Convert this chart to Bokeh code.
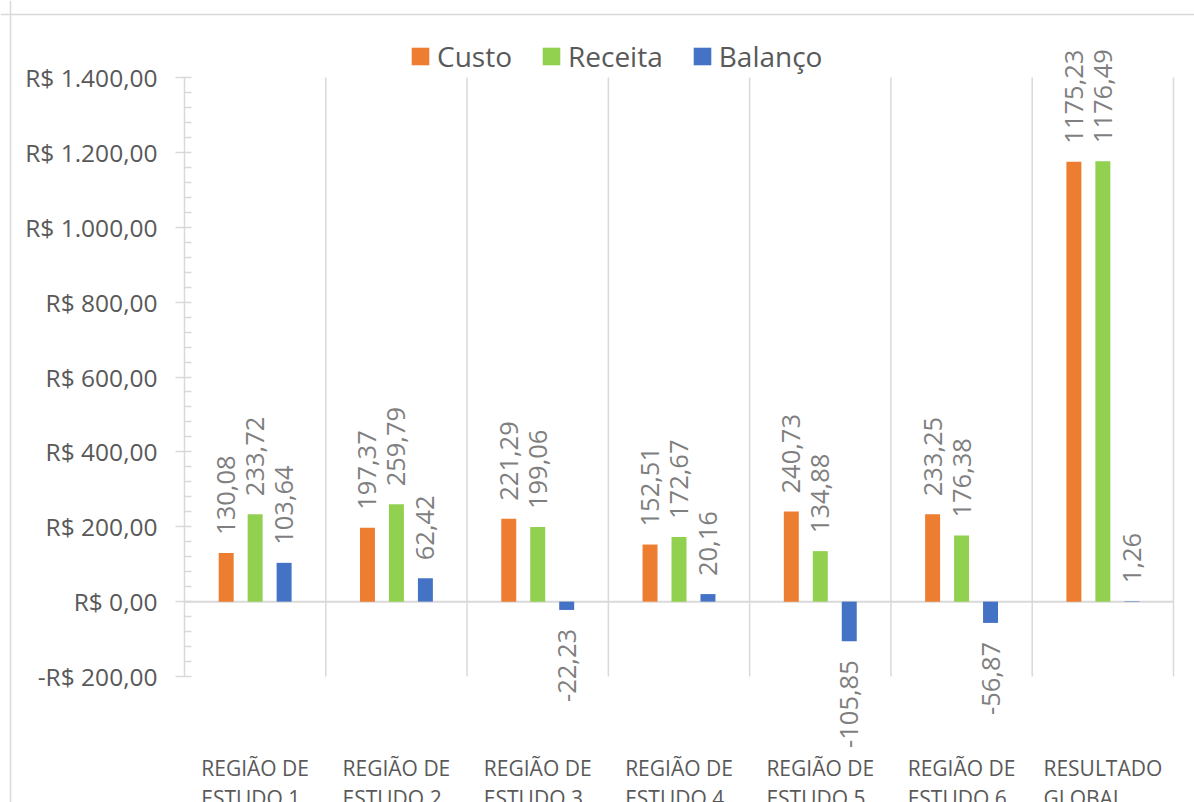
import math
from bokeh.plotting import figure
from bokeh.models import (Range1d, FixedTicker, LabelSet, ColumnDataSource, Span,
                          LinearAxis)
from bokeh.core.properties import value
from bokeh.embed import file_html
from bokeh.resources import INLINE

# ---- data ----
categories = ["REGIÃO DE\nESTUDO 1", "REGIÃO DE\nESTUDO 2", "REGIÃO DE\nESTUDO 3",
              "REGIÃO DE\nESTUDO 4", "REGIÃO DE\nESTUDO 5", "REGIÃO DE\nESTUDO 6",
              "RESULTADO\nGLOBAL"]
custo = [130.08, 197.37, 221.29, 152.51, 240.73, 233.25, 1175.23]
receita = [233.72, 259.79, 199.06, 172.67, 134.88, 176.38, 1176.49]
balanco = [103.64, 62.42, -22.23, 20.16, -105.85, -56.87, 1.26]
series_names = ["Custo", "Receita", "Balanço"]
y_ticks = [-200, 0, 200, 400, 600, 800, 1000, 1200, 1400]
y_tick_labels = ["-R$ 200,00", "R$ 0,00", "R$ 200,00", "R$ 400,00", "R$ 600,00",
                 "R$ 800,00", "R$ 1.000,00", "R$ 1.200,00", "R$ 1.400,00"]

# ---- layout (canvas pixels) ----
W, H = 1194, 802
PLOT_L, PLOT_R = 184, 1173      # where x = 0 and x = n fall
PLOT_T, PLOT_B = 77, 676        # where y = max and y = min fall
n = len(categories)
ymin, ymax = y_ticks[0], y_ticks[-1]
sx = (PLOT_R - PLOT_L) / n
sy = (PLOT_B - PLOT_T) / (ymax - ymin)
x_lo = -PLOT_L / sx
x_hi = x_lo + W / sx
y_hi = ymax + PLOT_T / sy
y_lo = y_hi - H / sy

# ---- style ----
colors = ["#ED7D31", "#92D050", "#4472C4"]
offsets = [-0.205, 0.0, 0.205]
bar_w = 0.106
FONT = "Open Sans"
AXIS_TXT = "#595959"
LBL_TXT = "#7f7f7f"
GRID = "#d9d9d9"

p = figure(width=W, height=H, output_backend="svg", toolbar_location=None,
           x_range=Range1d(x_lo, x_hi), y_range=Range1d(y_lo, y_hi),
           x_axis_location=None, y_axis_location=None, min_border=0)
p.outline_line_color = None
p.xgrid.visible = False
p.ygrid.visible = False

# chart-area border (left and top edges; right/bottom fall outside the picture)
p.add_layout(Span(location=x_lo + 10 / sx, dimension="height", line_color=GRID, line_width=1.5))
p.add_layout(Span(location=y_hi - 14 / sy, dimension="width", line_color=GRID, line_width=1.5))

# vertical category separators and zero line
bounds = list(range(1, n + 1))
p.segment(x0=bounds, x1=bounds, y0=[ymin] * n, y1=[ymax] * n, line_color=GRID, line_width=1.5)
p.segment(x0=[0], x1=[n], y0=[0], y1=[0], line_color=GRID, line_width=2)

# y axis
minor = [t + 40 * k for t in y_ticks[:-1] for k in range(1, 5)]
yax = LinearAxis(fixed_location=0, bounds=(ymin, ymax))
yax.ticker = FixedTicker(ticks=y_ticks, minor_ticks=minor)
yax.major_label_overrides = {t: l for t, l in zip(y_ticks, y_tick_labels)}
yax.axis_line_color = GRID
yax.axis_line_width = 1.5
yax.major_tick_line_color = GRID
yax.major_tick_line_width = 1.5
yax.minor_tick_line_color = GRID
yax.minor_tick_line_width = 1.5
yax.major_tick_out = 9
yax.major_tick_in = 7
yax.minor_tick_out = 0
yax.minor_tick_in = 7
yax.major_label_standoff = 18
yax.major_label_text_font = FONT
yax.major_label_text_font_size = "24.5px"
yax.major_label_text_color = AXIS_TXT
p.add_layout(yax, "left")

# bars + labels
for name, vals, col, off in zip(series_names, [custo, receita, balanco], colors, offsets):
    xs = [i + 0.5 + off for i in range(len(vals))]
    src = ColumnDataSource(dict(x=xs, top=vals))
    p.vbar(x="x", top="top", bottom=0, width=bar_w, source=src, fill_color=col,
           line_color=None, legend_label=name)
    txt = [f"{v:.2f}".replace(".", ",") for v in vals]
    pos = ColumnDataSource(dict(x=[x for x, v in zip(xs, vals) if v >= 0],
                                y=[v for v in vals if v >= 0],
                                t=[t for t, v in zip(txt, vals) if v >= 0]))
    neg = ColumnDataSource(dict(x=[x for x, v in zip(xs, vals) if v < 0],
                                y=[v for v in vals if v < 0],
                                t=[t for t, v in zip(txt, vals) if v < 0]))
    for s, align, yo in [(pos, "left", 18), (neg, "right", -19)]:
        p.add_layout(LabelSet(x="x", y="y", text="t", source=s, angle=math.pi / 2,
                              text_align=align, text_baseline="middle", y_offset=yo,
                              text_font=value(FONT), text_font_size="25.5px",
                              text_color=LBL_TXT))

# category labels
cat_src = ColumnDataSource(dict(x=[i + 0.5 for i in range(n)], y=[ymin] * n, t=categories))
p.add_layout(LabelSet(x="x", y="y", text="t", source=cat_src, text_align="center",
                      text_baseline="top", y_offset=-77, text_font=value(FONT),
                      text_font_size="21px", text_color=AXIS_TXT, text_line_height=1.08))

# legend
lg = p.legend[0]
lg.orientation = "horizontal"
lg.location = (409, 727)
lg.border_line_color = None
lg.background_fill_alpha = 0
lg.padding = 0
lg.margin = 0
lg.spacing = 28
lg.glyph_width = 22
lg.glyph_height = 22
lg.label_standoff = 6
lg.label_text_font = FONT
lg.label_text_font_size = "28px"
lg.label_text_color = AXIS_TXT

open("out.html", "w").write(file_html(p, INLINE))
